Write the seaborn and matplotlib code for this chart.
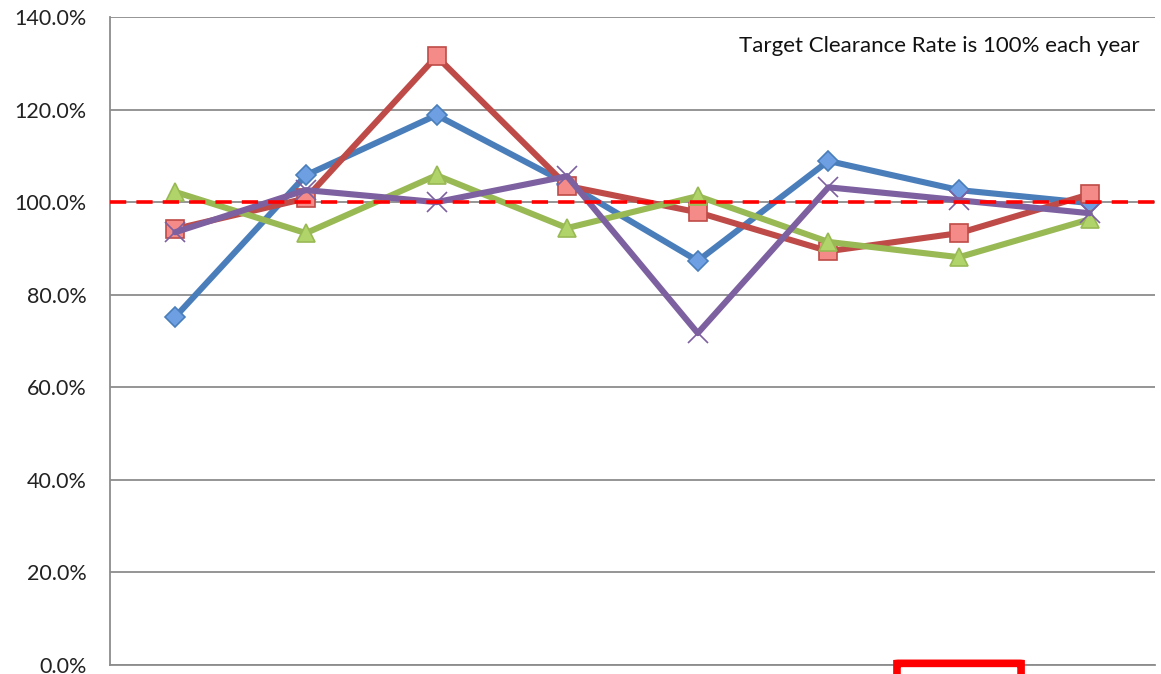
import numpy as np
import pandas as pd
import matplotlib
matplotlib.use("Agg")
import matplotlib.pyplot as plt
import seaborn as sns
from matplotlib.patches import FancyBboxPatch
from matplotlib.ticker import PercentFormatter

# === DATA (clearance rate, %) ===
categories = [1, 2, 3, 4, 5, 6, 7, 8]
blue_vals = [75.2, 105.8, 118.8, 104.0, 87.3, 108.9, 102.6, 99.8]
red_vals = [94.2, 100.8, 131.5, 103.5, 97.8, 89.4, 93.3, 101.7]
green_vals = [102.2, 93.3, 105.8, 94.4, 101.3, 91.4, 88.1, 96.3]
purple_vals = [93.5, 102.6, 100.0, 105.6, 71.7, 103.2, 100.4, 97.6]
target = 100.0
y_ticks = [0, 20, 40, 60, 80, 100, 120, 140]
note = "Target Clearance Rate is 100% each year"

series = {
    "Series 1": blue_vals,
    "Series 2": red_vals,
    "Series 3": green_vals,
    "Series 4": purple_vals,
}
df = pd.DataFrame(
    [(name, i, v) for name, vals in series.items() for i, v in enumerate(vals)],
    columns=["series", "pos", "rate"],
)

# === STYLE ===
sns.set_style("white")
plt.rcParams["font.family"] = ["Lato", "DejaVu Sans"]

styles = {
    "Series 1": dict(color="#4a7ebb", marker="D", mfc="#6f9fe3", mec="#4a7ebb", ms=10),
    "Series 2": dict(color="#be4b48", marker="s", mfc="#f58b89", mec="#be4b48", ms=12.5),
    "Series 3": dict(color="#98b954", marker="^", mfc="#b0d46a", mec="#98b954", ms=12.5),
    "Series 4": dict(color="#7d60a0", marker="x", mfc="#7d60a0", mec="#7d60a0", ms=14),
}

fig = plt.figure(figsize=(11.61, 6.74), dpi=100)
ax = fig.add_axes([0.0947, 0.0134, 0.9001, 0.9614])

for name, st in styles.items():
    sub = df[df["series"] == name]
    sns.lineplot(
        data=sub, x="pos", y="rate", ax=ax, color=st["color"], lw=4.4,
        marker=st["marker"], markersize=st["ms"], markerfacecolor=st["mfc"],
        markeredgecolor=st["mec"], markeredgewidth=1.2, zorder=3,
    )

ax.axhline(target, color="#ff0000", lw=2.6, ls=(0, (4.5, 2.8)), zorder=5)

# === AXES ===
ax.set_xlim(-0.5, len(categories) - 0.5)
ax.set_ylim(0, 140)
ax.set_yticks(y_ticks)
ax.yaxis.set_major_formatter(PercentFormatter(decimals=1))
ax.tick_params(axis="y", length=0, labelsize=15.5, pad=17, labelcolor="#222222")
ax.set_xticks(np.arange(len(categories) + 1) - 0.5)
ax.set_xticklabels([])
ax.tick_params(axis="x", length=9, width=1.3, color="#8c8c8c", direction="out")
ax.yaxis.grid(True, color="#8c8c8c", lw=1.3)
ax.set_axisbelow(True)
ax.set_xlabel("")
ax.set_ylabel("")
for s in ["top", "right"]:
    ax.spines[s].set_visible(False)
for s in ["left", "bottom"]:
    ax.spines[s].set_color("#8c8c8c")
    ax.spines[s].set_linewidth(1.3)

ax.text(0.985, 0.955, note, transform=ax.transAxes, ha="right", va="center",
        fontsize=16, color="#111111")

# red highlight box under the 7th category
box = FancyBboxPatch((5.525, -10.0), 0.95, 10.35, boxstyle="round,pad=0,rounding_size=0.02",
                     transform=ax.transData, fill=False, ec="#ff0000", lw=5.5,
                     clip_on=False, zorder=6)
ax.add_patch(box)

fig.savefig("out.png", dpi=100)
